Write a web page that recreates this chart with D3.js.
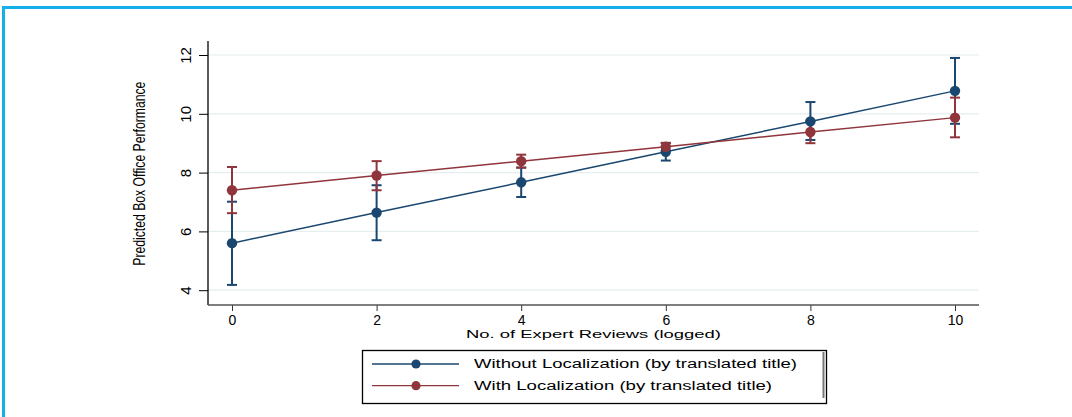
<!DOCTYPE html>
<html>
<head>
<meta charset="utf-8">
<script src="https://cdn.jsdelivr.net/npm/d3@7"></script>
<style>
  html, body { margin: 0; padding: 0; background: #fff; }
  svg { display: block; }
  text { font-family: "Liberation Sans", Arial, Helvetica, sans-serif; fill: #000; }
</style>
</head>
<body>
<svg id="chart" width="1072" height="417"></svg>
<script>
// Predictive margins of box office performance by expert reviews (logged)
const reviews = [0, 2, 4, 6, 8, 10];

const withoutMean = [5.60, 6.64, 7.67, 8.71, 9.74, 10.78];
const withoutLow  = [4.18, 5.70, 7.17, 8.41, 9.11, 9.66];
const withoutHigh = [7.01, 7.57, 8.17, 9.01, 10.40, 11.90];

const withMean = [7.40, 7.90, 8.39, 8.88, 9.38, 9.87];
const withLow  = [6.62, 7.40, 8.17, 8.75, 9.00, 9.20];
const withHigh = [8.19, 8.39, 8.61, 9.01, 9.76, 10.55];

const xTicks = [0, 2, 4, 6, 8, 10];
const yTicks = [4, 6, 8, 10, 12];

const seriesNames = [
  "Without Localization (by translated title)",
  "With Localization (by translated title)"
];
const seriesColors = ["#1a476f", "#90353b"];

const svg = d3.select("#chart");

// outer frame
svg.append("path")
  .attr("d", "M3.5,420 L3.5,7.5 L1080,7.5")
  .attr("fill", "none")
  .attr("stroke", "#14b0ea")
  .attr("stroke-width", 3);

const x = d3.scaleLinear().domain([0, 10]).range([232, 955]);
const y = d3.scaleLinear().domain([4, 12]).range([290.2, 55]);

const plotLeft = 208, plotRight = 979, plotTop = 41, plotBottom = 305;

// horizontal grid lines
svg.append("g").selectAll("line")
  .data(yTicks)
  .join("line")
  .attr("x1", plotLeft).attr("x2", plotRight)
  .attr("y1", d => y(d)).attr("y2", d => y(d))
  .attr("stroke", "#e6eef0")
  .attr("stroke-width", 1.2);

// y axis
const yAxis = svg.append("g")
  .attr("transform", `translate(${plotLeft},0)`)
  .call(d3.axisLeft(y).tickValues(yTicks).tickSize(9).tickSizeOuter(0).tickFormat(d3.format("d")));
yAxis.select(".domain").remove();
yAxis.selectAll(".tick line").attr("stroke", "#000").attr("stroke-width", 1);
yAxis.selectAll(".tick text")
  .attr("x", null).attr("dy", null).attr("y", null)
  .attr("transform", "translate(-17,0) rotate(-90)")
  .attr("text-anchor", "middle")
  .style("font-family", "'Liberation Sans Narrow', 'Liberation Sans', Arial, sans-serif")
  .attr("font-size", 15);
svg.append("line")
  .attr("x1", plotLeft).attr("x2", plotLeft)
  .attr("y1", plotTop).attr("y2", plotBottom)
  .attr("stroke", "#000").attr("stroke-width", 1.3);

// x axis
const xAxis = svg.append("g")
  .attr("transform", `translate(0,${plotBottom})`)
  .call(d3.axisBottom(x).tickValues(xTicks).tickSize(6).tickSizeOuter(0).tickFormat(d3.format("d")));
xAxis.select(".domain").remove();
xAxis.selectAll(".tick line").attr("stroke", "#333").attr("stroke-width", 1);
xAxis.selectAll(".tick text")
  .attr("y", 20).attr("dy", null)
  .attr("font-size", 14);
svg.append("line")
  .attr("x1", plotLeft).attr("x2", plotRight)
  .attr("y1", plotBottom).attr("y2", plotBottom)
  .attr("stroke", "#555").attr("stroke-width", 1.3);

// axis titles
svg.append("text")
  .attr("transform", "translate(145,173.7) rotate(-90)")
  .attr("text-anchor", "middle")
  .attr("font-size", 16)
  .attr("textLength", 184)
  .attr("lengthAdjust", "spacingAndGlyphs")
  .text("Predicted Box Office Performance");

svg.append("text")
  .attr("x", 466).attr("y", 338.3)
  .attr("font-size", 11.5)
  .attr("textLength", 255)
  .attr("lengthAdjust", "spacingAndGlyphs")
  .text("No. of Expert Reviews (logged)");

// series data
const series = [
  { mean: withoutMean, low: withoutLow, high: withoutHigh, color: seriesColors[0] },
  { mean: withMean, low: withLow, high: withHigh, color: seriesColors[1] }
];

const line = d3.line().x((d, i) => x(reviews[i])).y(d => y(d));

series.forEach(s => {
  const g = svg.append("g");
  // confidence intervals
  const ci = g.append("g").selectAll("g")
    .data(reviews.map((r, i) => ({ r, lo: s.low[i], hi: s.high[i] })))
    .join("g")
    .attr("stroke", s.color)
    .attr("stroke-width", 2);
  ci.append("line")
    .attr("x1", d => x(d.r)).attr("x2", d => x(d.r))
    .attr("y1", d => y(d.lo)).attr("y2", d => y(d.hi));
  ci.append("line")
    .attr("x1", d => x(d.r) - 5).attr("x2", d => x(d.r) + 5)
    .attr("y1", d => y(d.lo)).attr("y2", d => y(d.lo));
  ci.append("line")
    .attr("x1", d => x(d.r) - 5).attr("x2", d => x(d.r) + 5)
    .attr("y1", d => y(d.hi)).attr("y2", d => y(d.hi));
});

series.forEach(s => {
  const g = svg.append("g");
  g.append("path")
    .datum(s.mean)
    .attr("d", line)
    .attr("fill", "none")
    .attr("stroke", s.color)
    .attr("stroke-width", 1.5);
  g.selectAll("circle")
    .data(s.mean)
    .join("circle")
    .attr("cx", (d, i) => x(reviews[i]))
    .attr("cy", d => y(d))
    .attr("r", 5.2)
    .attr("fill", s.color);
});

// legend
const legend = svg.append("g");
legend.append("rect")
  .attr("x", 362.5).attr("y", 350.5)
  .attr("width", 464).attr("height", 53)
  .attr("fill", "#fff")
  .attr("stroke", "#000")
  .attr("stroke-width", 1.3);
legend.append("line")
  .attr("x1", 823.5).attr("x2", 823.5)
  .attr("y1", 352).attr("y2", 398)
  .attr("stroke", "#777").attr("stroke-width", 2);

const legendRows = [364, 385.7];
const legendWidths = [323, 298];
seriesNames.forEach((name, i) => {
  const yy = legendRows[i];
  legend.append("line")
    .attr("x1", 372).attr("x2", 459)
    .attr("y1", yy).attr("y2", yy)
    .attr("stroke", seriesColors[i]).attr("stroke-width", 1.3);
  legend.append("circle")
    .attr("cx", 416).attr("cy", yy).attr("r", 4.6)
    .attr("fill", seriesColors[i]);
  legend.append("text")
    .attr("x", 474).attr("y", yy + 4.3)
    .attr("font-size", 12)
    .attr("textLength", legendWidths[i])
    .attr("lengthAdjust", "spacingAndGlyphs")
    .text(name);
});
</script>
</body>
</html>
